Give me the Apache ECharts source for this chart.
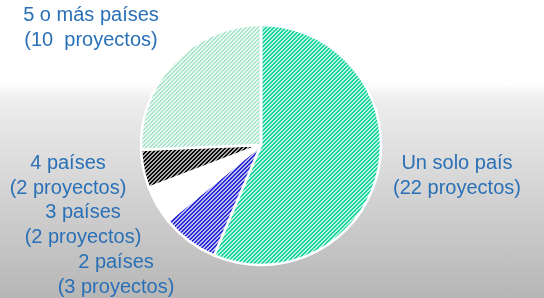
<!DOCTYPE html>
<html>
<head>
<meta charset="utf-8">
<script src="https://cdn.jsdelivr.net/npm/echarts@6/dist/echarts.min.js"></script>
<style>
  html, body { margin: 0; padding: 0; }
  body {
    width: 544px; height: 298px; overflow: hidden;
    background: linear-gradient(to bottom, #ffffff 0%, #ffffff 28%, #eeeeee 33%, #b6b6b6 100%);
  }
  #chart { width: 544px; height: 298px; }
</style>
</head>
<body>
<div id="chart"></div>
<script>
// data
var categories = ['Un solo país', '2 países', '3 países', '4 países', '5 o más países'];
var projects = [22, 3, 2, 2, 10];
var gaps = [' ', ' ', ' ', ' ', '  '];

// label block centres (x, y) per slice
var labelSpots = [[457, 176], [116, 275], [83, 225], [68, 176], [91, 28]];

function stripes(bg, fg) {
  var c = document.createElement('canvas');
  c.width = 4; c.height = 4;
  var g = c.getContext('2d');
  g.fillStyle = bg;
  g.fillRect(0, 0, 4, 4);
  g.fillStyle = fg;
  for (var x = 0; x < 4; x++) {
    for (var y = 0; y < 4; y++) {
      if ((x + y) % 4 < 2) g.fillRect(x, y, 1, 1);
    }
  }
  return { image: c, repeat: 'repeat' };
}

var fills = [
  stripes('#b2f4de', '#1fd39f'),
  stripes('#bcbcf2', '#2c2cd6'),
  '#ffffff',
  stripes('#acacac', '#0a0a0a'),
  stripes('#f0fbf6', '#a8e6cc')
];

var chart = echarts.init(document.getElementById('chart'));
chart.setOption({
  animation: false,
  series: [{
    type: 'pie',
    center: [261, 145],
    radius: 120,
    startAngle: 90,
    clockwise: true,
    avoidLabelOverlap: false,
    itemStyle: { borderColor: '#ffffff', borderWidth: 2.5 },
    emphasis: { disabled: true },
    labelLine: { show: false },
    label: {
      show: true,
      position: 'outside',
      alignTo: 'none',
      overflow: 'none',
      color: '#2a70b6',
      fontSize: 20,
      lineHeight: 25,
      fontFamily: 'Liberation Sans, Arial, sans-serif',
      align: 'center',
      formatter: function(p) {
        return p.name + '\n(' + p.value + gaps[p.dataIndex] + 'proyectos)';
      }
    },
    labelLayout: function(p) {
      var s = labelSpots[p.dataIndex];
      return { x: s[0], y: s[1], align: 'center', verticalAlign: 'middle' };
    },
    data: categories.map(function(n, i) {
      return {
        name: n,
        value: projects[i],
        itemStyle: { color: fills[i] }
      };
    })
  }]
});
</script>
</body>
</html>
